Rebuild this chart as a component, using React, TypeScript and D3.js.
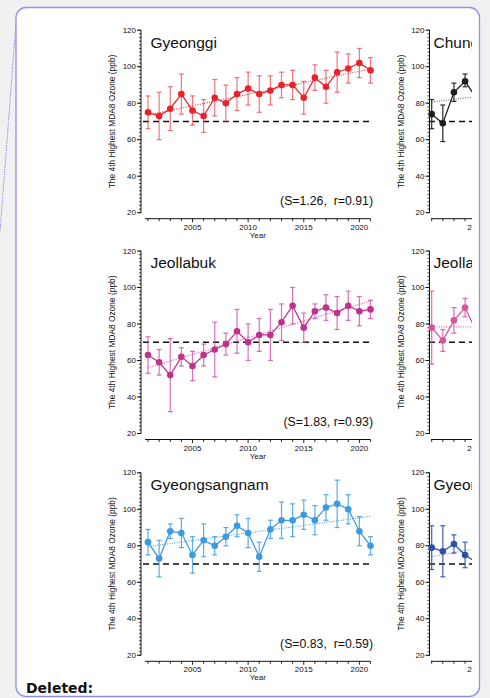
import React from 'react';
import * as d3 from 'd3';

// ---- shared axes ----
const years = [2001, 2002, 2003, 2004, 2005, 2006, 2007, 2008, 2009, 2010, 2011, 2012, 2013, 2014, 2015, 2016, 2017, 2018, 2019, 2020, 2021];
const earlyYears = [2001, 2002, 2003, 2004, 2005];
const yearTicks = [2005, 2010, 2015, 2020];
const ozoneTicks = [20, 40, 60, 80, 100, 120];
const standardPpb = 70;

// ---- 4th highest MDA8 ozone (ppb), with uncertainty ranges ----
const gyeonggiValues = [75, 73, 77, 85, 76, 73, 83, 80, 85, 88, 85, 87, 90, 90, 83, 94, 89, 97, 99, 102, 98];
const gyeonggiLow = [66, 60, 65, 74, 68, 64, 73, 70, 76, 79, 75, 79, 83, 82, 74, 87, 80, 86, 91, 94, 91];
const gyeonggiHigh = [84, 86, 89, 96, 84, 82, 93, 90, 94, 97, 95, 95, 97, 98, 92, 101, 98, 108, 107, 110, 105];

const jeollabukValues = [63, 59, 52, 62, 57, 63, 66, 69, 76, 70, 74, 74, 81, 90, 78, 87, 89, 86, 90, 87, 88];
const jeollabukLow = [53, 52, 32, 57, 49, 57, 51, 63, 64, 60, 65, 60, 71, 80, 70, 83, 82, 77, 82, 79, 83];
const jeollabukHigh = [73, 66, 72, 67, 65, 69, 81, 75, 88, 80, 83, 88, 91, 100, 86, 91, 96, 95, 98, 95, 93];

const gyeongsangnamValues = [82, 73, 88, 87, 75, 83, 80, 85, 91, 87, 74, 89, 94, 94, 97, 94, 101, 103, 100, 88, 80];
const gyeongsangnamLow = [75, 63, 84, 79, 65, 74, 75, 80, 85, 79, 66, 84, 84, 85, 89, 86, 94, 90, 92, 80, 75];
const gyeongsangnamHigh = [89, 83, 92, 95, 85, 92, 85, 90, 97, 95, 82, 94, 104, 103, 105, 102, 108, 116, 108, 96, 85];

const chungValues = [74, 69, 86, 92, 83];
const chungLow = [66, 59, 81, 89, 78];
const chungHigh = [82, 79, 91, 96, 88];

const jeollanamValues = [78, 71, 82, 89, 76];
const jeollanamLow = [58, 65, 75, 84, 70];
const jeollanamHigh = [98, 77, 89, 94, 82];

const gyeongsangbukValues = [79, 77, 81, 75, 71];
const gyeongsangbukLow = [67, 63, 76, 68, 66];
const gyeongsangbukHigh = [91, 91, 86, 82, 76];

// trend slopes (ppb / yr) and correlation
const gyeonggiStats = { s: 1.26, r: 0.91, label: '(S=1.26,  r=0.91)' };
const jeollabukStats = { s: 1.83, r: 0.93, label: '(S=1.83, r=0.93)' };
const gyeongsangnamStats = { s: 0.83, r: 0.59, label: '(S=0.83,  r=0.59)' };

const FONT = '"Liberation Sans", Arial, Helvetica, sans-serif';
const PAGE_W = 490;

type PanelDef = {
  name: string;
  yrs: number[];
  values: number[];
  low: number[];
  high: number[];
  slope: number;
  trend2001?: number;
  label?: string;
  color: string;
  errColor: string;
  trendColor: string;
};

const mean = (a: number[]) => d3.mean(a) as number;
const trendFromMean = (yrs: number[], v: number[], s: number) => mean(v) - s * (mean(yrs) - 2001);

const leftPanels: PanelDef[] = [
  { name: 'Gyeonggi', yrs: years, values: gyeonggiValues, low: gyeonggiLow, high: gyeonggiHigh, slope: gyeonggiStats.s, label: gyeonggiStats.label, color: '#e8232c', errColor: 'rgba(232,35,44,0.62)', trendColor: '#e8434a' },
  { name: 'Jeollabuk', yrs: years, values: jeollabukValues, low: jeollabukLow, high: jeollabukHigh, slope: jeollabukStats.s, label: jeollabukStats.label, color: '#c2308f', errColor: 'rgba(202,60,160,0.72)', trendColor: '#e060b4' },
  { name: 'Gyeongsangnam', yrs: years, values: gyeongsangnamValues, low: gyeongsangnamLow, high: gyeongsangnamHigh, slope: gyeongsangnamStats.s, label: gyeongsangnamStats.label, color: '#3b9ae0', errColor: 'rgba(59,154,224,0.82)', trendColor: '#4aa6e8' },
];

const rightPanels: PanelDef[] = [
  { name: 'Chungcheongnam', yrs: earlyYears, values: chungValues, low: chungLow, high: chungHigh, slope: 0.72, trend2001: 80.7, color: '#1e1e1e', errColor: '#2a2a2a', trendColor: '#777777' },
  { name: 'Jeollanam', yrs: earlyYears, values: jeollanamValues, low: jeollanamLow, high: jeollanamHigh, slope: 0, trend2001: 78.4, color: '#d2559f', errColor: 'rgba(210,85,159,0.85)', trendColor: '#e070b8' },
  { name: 'Gyeongsangbuk', yrs: earlyYears, values: gyeongsangbukValues, low: gyeongsangbukLow, high: gyeongsangbukHigh, slope: 1.08, trend2001: 74.1, color: '#2f4fa6', errColor: 'rgba(47,79,166,0.9)', trendColor: '#7198e0' },
];

type Col = { axisX: number; x2001: number; xAxisStart: number; titleX: number; ylabelX: number; noteRight: number };
const cols: Col[] = [
  { axisX: 141, x2001: 148, xAxisStart: 145, titleX: 150.5, ylabelX: 112, noteRight: 373 },
  { axisX: 429.5, x2001: 431.7, xAxisStart: 431, titleX: 433.5, ylabelX: 401.5, noteRight: 661 },
];
const rowTops = [30.2, 251, 472.8];
const PLOT_H = 182.5;
const YEAR_W = 11.125;

function Panel({ p, col, top }: { p: PanelDef; col: Col; top: number }) {
  const bottom = top + PLOT_H;
  const x = d3.scaleLinear().domain([2001, 2021]).range([col.x2001, col.x2001 + 20 * YEAR_W]);
  const y = d3.scaleLinear().domain([20, 120]).range([bottom, top]);
  const axisY = bottom + 6;
  const xEnd = x(2021);
  const line = d3
    .line<number>()
    .x((_, i) => x(p.yrs[i]))
    .y((d) => y(d));
  const t0 = p.trend2001 !== undefined ? p.trend2001 : trendFromMean(p.yrs, p.values, p.slope);
  const minorY = d3.range(20, 121, 2);
  const midY = (top + bottom) / 2;
  const yearLabelX = (col.xAxisStart + xEnd) / 2;
  // labels that start past the page edge are never drawn
  const onPage = (cx: number, halfW: number) => cx - halfW < PAGE_W;

  return (
    <g>
      {/* y axis */}
      <line x1={col.axisX} x2={col.axisX} y1={top} y2={bottom} stroke="#111" strokeWidth={1} />
      {minorY.map((v) => (
        <line key={'m' + v} x1={col.axisX - 2} x2={col.axisX} y1={y(v)} y2={y(v)} stroke="#111" strokeWidth={0.8} />
      ))}
      {ozoneTicks.map((v) => (
        <g key={'t' + v}>
          <line x1={col.axisX - 4} x2={col.axisX} y1={y(v)} y2={y(v)} stroke="#111" strokeWidth={1} />
          <text x={col.axisX - 5} y={y(v)} dy="0.33em" textAnchor="end" fontSize={8} fontFamily={FONT} fill="#111">
            {v}
          </text>
        </g>
      ))}
      <text
        transform={`translate(${col.ylabelX},${midY}) rotate(-90)`}
        textAnchor="middle"
        dy="0.35em"
        fontSize={8.4}
        fontFamily={FONT}
        fill="#111"
      >
        The 4th Highest MDA8 Ozone (ppb)
      </text>

      {/* x axis */}
      <line x1={col.xAxisStart} x2={xEnd} y1={axisY} y2={axisY} stroke="#111" strokeWidth={1} />
      {years.map((yr) => (
        <line key={'x' + yr} x1={x(yr)} x2={x(yr)} y1={axisY} y2={axisY + (yearTicks.includes(yr) ? 3.5 : 2.5)} stroke="#111" strokeWidth={0.9} />
      ))}
      {yearTicks
        .filter((yr) => onPage(x(yr), 9))
        .map((yr) => (
          <text key={'xl' + yr} x={x(yr)} y={axisY + 11} textAnchor="middle" fontSize={8} fontFamily={FONT} fill="#111">
            {yr}
          </text>
        ))}
      {onPage(yearLabelX, 8) && (
        <text x={yearLabelX} y={axisY + 19} textAnchor="middle" fontSize={8} fontFamily={FONT} fill="#111">
          Year
        </text>
      )}

      {/* 70 ppb standard */}
      <line x1={col.xAxisStart - 2} x2={xEnd} y1={y(standardPpb)} y2={y(standardPpb)} stroke="#111" strokeWidth={1.5} strokeDasharray="6,4" />

      {/* trend */}
      <line
        x1={x(2001)}
        x2={x(2021)}
        y1={y(t0)}
        y2={y(t0 + p.slope * 20)}
        stroke={p.trendColor}
        strokeWidth={1.2}
        strokeDasharray="1,1.4"
      />

      {/* error bars */}
      {p.values.map((v, i) => {
        const cx = x(p.yrs[i]);
        return (
          <g key={'e' + i} stroke={p.errColor} strokeWidth={1.2}>
            <line x1={cx} x2={cx} y1={y(p.low[i])} y2={y(p.high[i])} />
            <line x1={cx - 2.5} x2={cx + 2.5} y1={y(p.low[i])} y2={y(p.low[i])} />
            <line x1={cx - 2.5} x2={cx + 2.5} y1={y(p.high[i])} y2={y(p.high[i])} />
          </g>
        );
      })}

      {/* series */}
      <path d={line(p.values) || ''} fill="none" stroke={p.color} strokeWidth={1.25} />
      {p.values.map((v, i) => (
        <circle key={'c' + i} cx={x(p.yrs[i])} cy={y(v)} r={3.3} fill={p.color} />
      ))}

      <text x={col.titleX} y={top + 17.3} fontSize={15.5} fontFamily={FONT} fill="#111">
        {p.name}
      </text>
      {p.label && (
        <text x={col.noteRight} y={top + 175} textAnchor="end" fontSize={12.3} fontFamily={FONT} fill="#111" style={{ whiteSpace: 'pre' }}>
          {p.label}
        </text>
      )}
    </g>
  );
}

export default function App() {
  return (
    <div style={{ position: 'fixed', left: 0, top: 0, width: 490, height: 698 }}>
      <svg width={490} height={698} style={{ display: 'block' }}>
        <defs>
          <clipPath id="rightCol">
            <rect x={300} y={0} width={172} height={698} />
          </clipPath>
        </defs>
        <rect x={0} y={0} width={490} height={698} fill="#f1f1f1" />
        <line x1={16} y1={23} x2={0} y2={232} stroke="#7f7fe6" strokeWidth={1} strokeDasharray="1.2,1.2" />
        <rect x={16} y={7.5} width={463.5} height={689} rx={10} ry={10} fill="#ffffff" stroke="#8f8fec" strokeWidth={1.3} />

        {leftPanels.map((p, i) => (
          <Panel key={p.name} p={p} col={cols[0]} top={rowTops[i]} />
        ))}
        <g clipPath="url(#rightCol)">
          {rightPanels.map((p, i) => (
            <Panel key={p.name} p={p} col={cols[1]} top={rowTops[i]} />
          ))}
        </g>

        <text x={26} y={692.5} fontSize={14} fontWeight="bold" fontFamily='"DejaVu Sans", Verdana, sans-serif' fill="#111">
          Deleted:
        </text>
      </svg>
    </div>
  );
}
